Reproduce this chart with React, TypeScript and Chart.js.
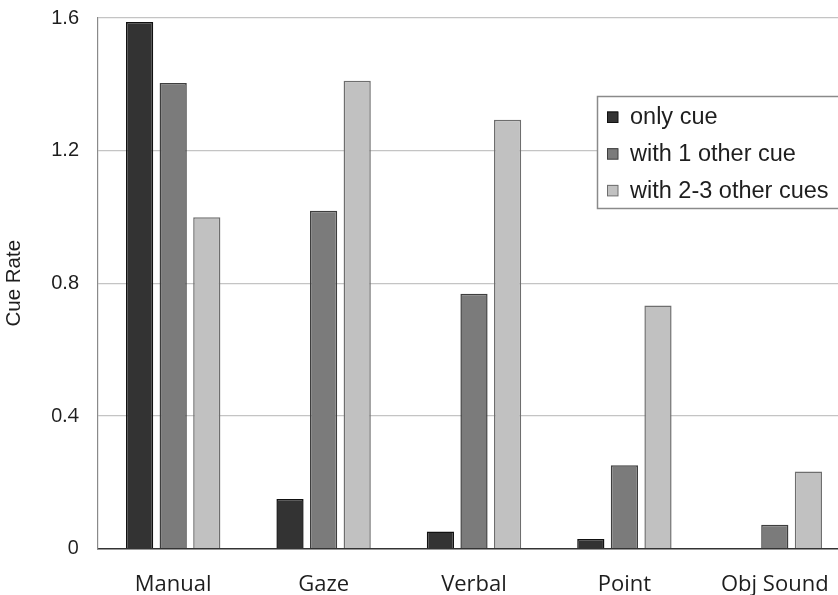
import React, { useEffect, useRef } from "react";
import { Chart, registerables } from "chart.js";

Chart.register(...registerables);

const categories = ["Manual", "Gaze", "Verbal", "Point", "Obj Sound"];
const seriesNames = ["only cue", "with 1 other cue", "with 2-3 other cues"];
const onlyCue = [1.588, 0.149, 0.051, 0.029, 0];
const withOne = [1.404, 1.019, 0.768, 0.251, 0.072];
const withTwoThree = [0.999, 1.411, 1.293, 0.733, 0.232];
const yTickValues = [0, 0.4, 0.8, 1.2, 1.6];
const yTickLabels = ["0", "0.4", "0.8", "1.2", "1.6"];

const fills = ["#333333", "#7b7b7b", "#c1c1c1"];
const borders = ["#111111", "#3e3e3e", "#6e6e6e"];

const legendPlugin = {
  id: "boxLegend",
  afterDraw(chart: any) {
    const ctx = chart.ctx;
    const x = 597, y = 96, w = 252, h = 112;
    ctx.save();
    ctx.fillStyle = "#ffffff";
    ctx.fillRect(x, y, w, h);
    ctx.strokeStyle = "#8a8a8a";
    ctx.lineWidth = 1.5;
    ctx.strokeRect(x + 0.5, y + 0.5, w, h);
    ctx.font = "23.5px 'Liberation Sans', Arial, sans-serif";
    ctx.textBaseline = "middle";
    ctx.textAlign = "left";
    chart.data.datasets.forEach((ds: any, i: number) => {
      const cy = 117 + i * 36.7;
      ctx.fillStyle = ds.backgroundColor;
      ctx.fillRect(607, cy - 5.5, 11, 11);
      ctx.strokeStyle = ds.borderColor;
      ctx.lineWidth = 1;
      ctx.strokeRect(607.5, cy - 5, 10.5, 10.5);
      ctx.fillStyle = "#1e1e1e";
      ctx.fillText(ds.label, 630, cy + 1);
    });
    ctx.restore();
  },
};

export default function App() {
  const ref = useRef<HTMLCanvasElement>(null);
  useEffect(() => {
    document.body.style.margin = "0";
    const canvas = ref.current!;
    const datasets = [onlyCue, withOne, withTwoThree].map((d, i) => ({
      label: seriesNames[i],
      data: d,
      backgroundColor: fills[i],
      borderColor: borders[i],
      borderWidth: 1.5,
      categoryPercentage: 0.67,
      barPercentage: 0.81,
    }));
    const chart = new Chart(canvas, {
      type: "bar",
      data: { labels: categories, datasets },
      plugins: [legendPlugin],
      options: {
        responsive: false,
        animation: false,
        devicePixelRatio: 1,
        layout: { padding: { top: 18, left: 0, right: 0, bottom: 0 } },
        plugins: { legend: { display: false }, tooltip: { enabled: false } },
        scales: {
          x: {
            type: "category",
            grid: { color: "rgba(0,0,0,0)", drawTicks: false },
            border: { display: true, color: "#333333", width: 1.5 },
            ticks: {
              padding: 23,
              color: "#1e1e1e",
              font: { family: "'Open Sans', sans-serif", size: 22 },
              maxRotation: 0,
              autoSkip: false,
            },
            afterFit: (s: any) => {
              s.height = 46.5;
              s.paddingLeft = 0;
              s.paddingRight = 0;
            },
          },
          y: {
            min: 0,
            max: 1.6,
            afterBuildTicks: (s: any) => {
              s.ticks = yTickValues.map((v) => ({ value: v }));
            },
            grid: {
              color: (c: any) => (c.tick && c.tick.value === 0 ? "rgba(0,0,0,0)" : "#c4c4c4"),
              lineWidth: 1.2,
              drawTicks: false,
            },
            border: { display: true, color: "#8a8a8a", width: 1.2 },
            ticks: {
              padding: 19,
              color: "#1e1e1e",
              font: (c: any) => ({
                family:
                  c.tick && c.tick.value >= 0.8
                    ? "'Liberation Sans', Arial, sans-serif"
                    : "'Open Sans', sans-serif",
                size: 20,
              }),
              callback: (_v: any, i: number) => yTickLabels[i],
            },
            title: {
              display: true,
              text: "Cue Rate",
              color: "#1e1e1e",
              font: { family: "'Liberation Sans', Arial, sans-serif", size: 20.5 },
              padding: { top: 2, bottom: 0 },
            },
            afterFit: (s: any) => {
              s.width = 98;
              s.paddingTop = 0;
              s.paddingBottom = 0;
            },
          },
        },
      },
    });
    return () => chart.destroy();
  }, []);
  return (
    <div style={{ width: 838, height: 595, overflow: "hidden", background: "#fff" }}>
      <canvas ref={ref} width={850} height={595} style={{ display: "block" }} />
    </div>
  );
}
